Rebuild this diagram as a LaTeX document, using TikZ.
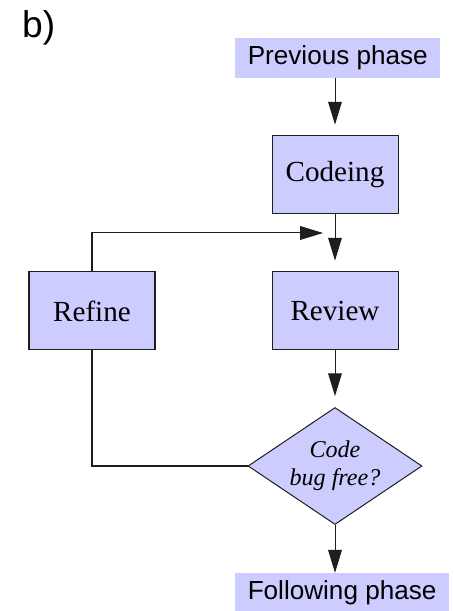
\documentclass[tikz,border=0pt]{standalone}
\usepackage{fontspec}
\setmainfont{Liberation Serif}
\setsansfont{Liberation Sans}
\usepackage{tikz}
\usetikzlibrary{shapes.geometric, arrows.meta, positioning, calc}
\definecolor{boxfill}{RGB}{204, 204, 255}
\definecolor{linecol}{RGB}{30, 30, 30}

\begin{document}
\begin{tikzpicture}[
        >={Triangle[length=0.8cm, width=0.48cm]},
        phase/.style={rectangle, fill=boxfill, anchor=west, inner xsep=0.44cm, inner ysep=0pt, minimum height=1.4cm, font=\sffamily\fontsize{26}{30}\selectfont},
        task/.style={rectangle, draw=linecol, line width=1pt, fill=boxfill, minimum width=4.41cm, minimum height=2.73cm, align=center, font=\fontsize{29}{33}\selectfont},
        decision/.style={diamond, draw=linecol, line width=1pt, fill=boxfill, aspect=1.5, inner sep=0pt, minimum width=6.09cm, minimum height=4.095cm, align=center, font=\itshape\fontsize{24}{28}\selectfont},
        arrow/.style={->, line width=1pt, color=linecol, shorten >=0.38cm},
        line/.style={line width=1pt, color=linecol}
    ]
    \useasboundingbox (0, 0) rectangle (15.89, 21.385);

    %% --- Panel label ---
    \node[anchor=base west, inner sep=0pt, font=\sffamily\fontsize{37}{40}\selectfont] (panel) at (0.77, 20.055) {b)};

    %% --- Phase boxes (no border) ---
    \node[phase] (prev)   at (8.225, 19.355) {Previous phase};
    \node[phase] (follow) at (8.225, 0.63)   {Following phase};

    %% --- Main column ---
    \node[task]     (code)   at (11.725, 15.26) {Codeing};
    \node[task]     (review) at (11.725, 10.5)  {Review};
    \node[decision] (check)  at (11.725, 5.075) {Code\\bug free?};

    %% --- Side column ---
    \node[task] (refine) at (3.22, 10.5) {Refine};
    \coordinate (back) at (11.305, 13.23);

    %% --- Forward flow ---
    \draw[arrow] (code.north |- prev.south) -- (code.north);
    \draw[arrow] (code.south) -- (review.north);
    \draw[arrow] (review.south) -- (check.north);
    \draw[arrow, shorten >=0pt] (check.south) -- (check.south |- follow.north);

    %% --- Loop: check -> refine -> back into review ---
    \draw[line] (check.west) -| (refine.south);
    \draw[arrow, shorten >=0pt] (refine.north) |- (back);

\end{tikzpicture}
\end{document}
